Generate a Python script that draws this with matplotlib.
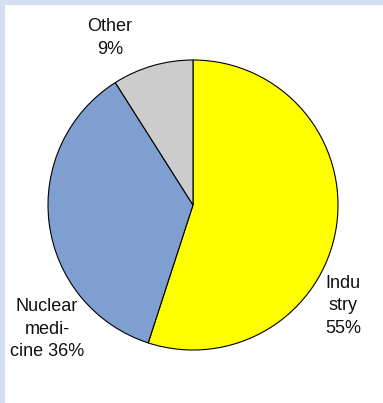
import matplotlib.pyplot as plt
from matplotlib.patches import Rectangle

# share of use by sector
labels = ['Indu\nstry\n55%', 'Nuclear\nmedi-\ncine 36%', 'Other\n9%']
shares = [55, 36, 9]
colors = ['#FFFF00', '#7F9FD0', '#CCCCCC']

plt.rcParams['font.family'] = ['Liberation Sans', 'DejaVu Sans']

W, H = 383, 403
fig = plt.figure(figsize=(W / 100, H / 100), dpi=100)
fig.patch.set_facecolor('#D4E0F0')
ax = fig.add_axes([0, 0, 1, 1])

# white panel inside the light blue frame (frame on top and left only)
ax.add_patch(Rectangle((5, 0), W, H - 5, facecolor='white', edgecolor='none', zorder=0))

ax.pie(shares, colors=colors, startangle=90, counterclock=False,
       center=(193, H - 205), radius=145, frame=True,
       wedgeprops=dict(edgecolor='black', linewidth=0.8, zorder=2))
ax.set_xlim(0, W)
ax.set_ylim(0, H)
ax.set_aspect('equal')
ax.axis('off')

label_pos = [(343, 306), (47, 329), (110, 38)]
for lab, (x, y) in zip(labels, label_pos):
    ax.text(x, H - y, lab, ha='center', va='center', multialignment='center',
            fontsize=13, color='#111111', linespacing=1.45)

fig.savefig('out.png', dpi=100, facecolor=fig.get_facecolor())
